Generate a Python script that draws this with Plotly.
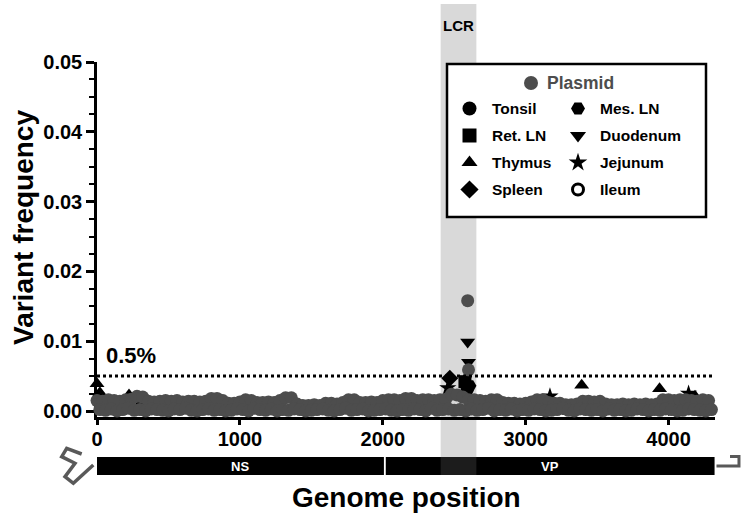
import plotly.graph_objects as go

# ---------------- data ----------------
# Plasmid: upper envelope of the dense band (every 40 nt) and lower points (offset 20 nt)
plasmid_hi = [
    0.0015, 0.0014, 0.0016, 0.0015, 0.0014, 0.0016, 0.0017, 0.0021, 0.0020, 0.0014,
    0.0013, 0.0014, 0.0015, 0.0014, 0.0015, 0.0013, 0.0014, 0.0014, 0.0013, 0.0014,
    0.0018, 0.0018, 0.0015, 0.0011, 0.0011, 0.0013, 0.0016, 0.0015, 0.0012, 0.0012,
    0.0013, 0.0012, 0.0015, 0.0019, 0.0019, 0.0010, 0.0008, 0.0008, 0.0009, 0.0008,
    0.0011, 0.0011, 0.0010, 0.0012, 0.0016, 0.0016, 0.0012, 0.0012, 0.0013, 0.0012,
    0.0015, 0.0016, 0.0016, 0.0015, 0.0018, 0.0018, 0.0015, 0.0016, 0.0016, 0.0015,
    0.0016, 0.0017, 0.0024, 0.0023, 0.0020, 0.0016, 0.0016, 0.0015, 0.0014, 0.0016,
    0.0016, 0.0012, 0.0011, 0.0011, 0.0010, 0.0011, 0.0013, 0.0016, 0.0016, 0.0012,
    0.0011, 0.0011, 0.0009, 0.0009, 0.0010, 0.0014, 0.0014, 0.0013, 0.0014, 0.0010,
    0.0009, 0.0009, 0.0010, 0.0009, 0.0010, 0.0009, 0.0010, 0.0009, 0.0010, 0.0016,
    0.0016, 0.0015, 0.0016, 0.0016, 0.0015, 0.0014, 0.0016, 0.0015,
]
plasmid_lo = [
    0.0002, 0.0001, 0.0003, 0.0000, 0.0002, 0.0004, 0.0001, 0.0002, 0.0000, 0.0003,
    0.0002, 0.0001, 0.0000, 0.0003, 0.0002, 0.0004, 0.0001, 0.0000, 0.0002, 0.0003,
    0.0001, 0.0002, 0.0000, 0.0001, 0.0003, 0.0002, 0.0000, 0.0004, 0.0002, 0.0001,
    0.0003, 0.0000, 0.0002, 0.0001, 0.0003, 0.0002, 0.0000, 0.0001, 0.0002, 0.0003,
    0.0001, 0.0000, 0.0002, 0.0004, 0.0001, 0.0002, 0.0003, 0.0000, 0.0001, 0.0002,
    0.0003, 0.0001, 0.0000, 0.0002, 0.0001, 0.0003, 0.0002, 0.0000, 0.0004, 0.0001,
    0.0002, 0.0003, 0.0001, 0.0002, 0.0000, 0.0003, 0.0001, 0.0002, 0.0004, 0.0000,
    0.0002, 0.0001, 0.0003, 0.0000, 0.0002, 0.0001, 0.0003, 0.0002, 0.0000, 0.0001,
    0.0002, 0.0004, 0.0001, 0.0000, 0.0003, 0.0002, 0.0001, 0.0002, 0.0000, 0.0003,
    0.0001, 0.0002, 0.0000, 0.0001, 0.0003, 0.0002, 0.0000, 0.0002, 0.0001, 0.0003,
    0.0002, 0.0000, 0.0001, 0.0003, 0.0002, 0.0001, 0.0000, 0.0002,
]
plasmid_peak_pos = [2594, 2600]
plasmid_peak_freq = [0.0158, 0.0059]

plasmid_pos = (list(range(0, 40 * len(plasmid_hi), 40))
               + list(range(20, 20 + 40 * len(plasmid_lo), 40))
               + plasmid_peak_pos)
plasmid_freq = plasmid_hi + plasmid_lo + plasmid_peak_freq

tissue_names = ["Tonsil", "Ret. LN", "Thymus", "Spleen",
                "Mes. LN", "Duodenum", "Jejunum", "Ileum"]
tissue_symbols = ["circle", "square", "triangle-up", "diamond",
                  "hexagon2", "triangle-down", "star", "circle-open"]
tissue_pos = {
    "Tonsil":   [120, 980, 1850, 2590, 3600],
    "Ret. LN":  [400, 1500, 2575, 3300],
    "Thymus":   [0, 20, 224, 3392, 3937, 4185],
    "Spleen":   [700, 2469, 4000],
    "Mes. LN":  [300, 2610, 3800],
    "Duodenum": [1200, 2594, 2600],
    "Jejunum":  [2455, 3170, 4140],
    "Ileum":    [1600, 2250, 3700],
}
tissue_freq = {
    "Tonsil":   [0.0006, 0.0004, 0.0007, 0.0030, 0.0005],
    "Ret. LN":  [0.0005, 0.0006, 0.0042, 0.0004],
    "Thymus":   [0.0039, 0.0026, 0.0023, 0.0037, 0.0032, 0.0021],
    "Spleen":   [0.0006, 0.0047, 0.0005],
    "Mes. LN":  [0.0005, 0.0036, 0.0006],
    "Duodenum": [0.0005, 0.0099, 0.0070],
    "Jejunum":  [0.0033, 0.0021, 0.0025],
    "Ileum":    [0.0004, 0.0006, 0.0005],
}

threshold = 0.005
threshold_label = "0.5%"
genes = ["NS", "VP"]
gene_start = [0, 2021]
gene_end = [2008, 4322]
lcr_start, lcr_end = 2405, 2655

x_ticks = [0, 1000, 2000, 3000, 4000]
y_ticks = [0.0, 0.01, 0.02, 0.03, 0.04, 0.05]
X_RANGE = [0, 4325]
Y_RANGE = [-0.00086, 0.05]

# ---------------- layout helpers (pixel -> paper / data) ----------------
W, H = 742, 520
L, R, T, B = 97, 27, 62, 103
PW, PH = W - L - R, H - T - B


def px(x):
    return (x - L) / PW


def py(y):
    return (H - B - y) / PH


def dx(x):
    return X_RANGE[0] + px(x) * (X_RANGE[1] - X_RANGE[0])


def dy(y):
    return Y_RANGE[0] + py(y) * (Y_RANGE[1] - Y_RANGE[0])


FONT = "Liberation Sans, Arial, Helvetica, sans-serif"
GREY = "#4d4d4d"


def bold(size, color="black"):
    return dict(family=FONT, size=size, color=color, weight="bold")


fig = go.Figure()

# tissue samples (drawn first, plasmid on top)
for name, sym in zip(tissue_names, tissue_symbols):
    open_sym = sym.endswith("open")
    fig.add_trace(go.Scatter(
        x=tissue_pos[name], y=tissue_freq[name], mode="markers", name=name,
        marker=dict(symbol=sym, size=11 if open_sym else 13, color="#000000",
                    line=dict(width=3 if open_sym else 0, color="#000000")),
        cliponaxis=False, showlegend=False))

fig.add_trace(go.Scatter(
    x=plasmid_pos, y=plasmid_freq, mode="markers", name="Plasmid",
    marker=dict(symbol="circle", size=13, color=GREY, line=dict(width=0)),
    cliponaxis=False, showlegend=False))

shapes = []
# LCR band
shapes.append(dict(type="rect", xref="x", yref="paper", x0=lcr_start, x1=lcr_end,
                   y0=py(475), y1=py(4), fillcolor="#d9d9d9", line=dict(width=0),
                   layer="below"))
# legend box
shapes.append(dict(type="rect", xref="paper", yref="paper", x0=px(447), x1=px(706),
                   y0=py(217), y1=py(64), fillcolor="white",
                   line=dict(color="black", width=2.5), layer="below"))
# threshold line
shapes.append(dict(type="line", xref="paper", yref="y", x0=0, x1=1, y0=threshold, y1=threshold,
                   line=dict(color="black", width=3, dash="dot"), layer="above"))
# genome bar
for g, s, e in zip(genes, gene_start, gene_end):
    shapes.append(dict(type="rect", xref="x", yref="paper", x0=s, x1=e,
                       y0=py(475), y1=py(457), fillcolor="black", line=dict(width=0),
                       layer="above"))
shapes.append(dict(type="rect", xref="x", yref="paper", x0=lcr_start, x1=lcr_end,
                   y0=py(475), y1=py(457), fillcolor="rgba(217,217,217,0.13)",
                   line=dict(width=0), layer="above"))
# ITR hairpins
left_pts = [(81.7, 454), (66.7, 448.3), (61.7, 456.7), (75, 463.3), (65, 476.7), (73.3, 483.3), (93.3, 465)]
path = "M " + " L ".join(f"{px(x):.4f},{py(y):.4f}" for x, y in left_pts)
shapes.append(dict(type="path", xref="paper", yref="paper", path=path,
                   line=dict(color="#595959", width=3.5), layer="above"))
right_pts = [(716.5, 466), (739, 466), (739, 456.5), (730, 456.5)]
path = "M " + " L ".join(f"{px(x):.4f},{py(y):.4f}" for x, y in right_pts)
shapes.append(dict(type="path", xref="paper", yref="paper", path=path,
                   line=dict(color="#595959", width=3), layer="above"))

annotations = []
for g, s, e in zip(genes, gene_start, gene_end):
    annotations.append(dict(x=(s + e) / 2, y=py(466), xref="x", yref="paper", text=g,
                            xanchor="center", yanchor="middle", showarrow=False,
                            font=bold(13, "white")))
annotations.append(dict(x=(lcr_start + lcr_end) / 2, y=py(26), xref="x", yref="paper", text="LCR",
                        xanchor="center", yanchor="middle", showarrow=False, font=bold(15)))
annotations.append(dict(x=dx(104), y=0.0079, xref="x", yref="y", text=threshold_label,
                        xanchor="left", yanchor="middle", showarrow=False, font=bold(22)))
annotations.append(dict(x=px(23), y=py(228), xref="paper", yref="paper", text="Variant frequency",
                        textangle=-90, xanchor="center", yanchor="middle", showarrow=False,
                        font=bold(28)))
annotations.append(dict(x=px(406), y=py(497), xref="paper", yref="paper", text="Genome position",
                        xanchor="center", yanchor="middle", showarrow=False, font=bold(28)))

# manual legend
leg_x = [469.5, 578]
leg_y = [108.5, 135.5, 162.5, 189.5]
for i, (name, sym) in enumerate(zip(tissue_names, tissue_symbols)):
    col, row = divmod(i, 4)
    open_sym = sym.endswith("open")
    fig.add_trace(go.Scatter(
        x=[dx(leg_x[col])], y=[dy(leg_y[row])], mode="markers",
        marker=dict(symbol=sym, size=11 if open_sym else 14, color="#000000",
                    line=dict(width=3 if open_sym else 0, color="#000000")),
        cliponaxis=False, showlegend=False, hoverinfo="skip"))
    annotations.append(dict(x=px(leg_x[col] + 20), y=py(leg_y[row]), xref="paper", yref="paper",
                            text=name, xanchor="left", yanchor="middle", showarrow=False,
                            font=bold(15.5)))
fig.add_trace(go.Scatter(x=[dx(531)], y=[dy(83)], mode="markers",
                         marker=dict(symbol="circle", size=14, color=GREY),
                         cliponaxis=False, showlegend=False, hoverinfo="skip"))
annotations.append(dict(x=px(545), y=py(83), xref="paper", yref="paper", text="Plasmid",
                        xanchor="left", yanchor="middle", showarrow=False, font=bold(17.5, GREY)))

fig.update_layout(
    width=W, height=H,
    margin=dict(l=L, r=R, t=T, b=B, pad=0),
    plot_bgcolor="rgba(0,0,0,0)", paper_bgcolor="white",
    showlegend=False, hovermode=False,
    shapes=shapes, annotations=annotations,
    xaxis=dict(range=X_RANGE, tickvals=x_ticks, ticktext=[str(v) for v in x_ticks],
               showgrid=False, zeroline=False, showline=True, linecolor="black", linewidth=2.5,
               ticks="outside", ticklen=5, tickwidth=2.5, tickcolor="black",
               ticklabelstandoff=-3,
               tickfont=bold(20), layer="below traces", fixedrange=True),
    yaxis=dict(range=Y_RANGE, tickvals=y_ticks, tickformat=".2f",
               showgrid=False, zeroline=False, showline=True, linecolor="black", linewidth=2.5,
               ticks="outside", ticklen=8, tickwidth=2.5, tickcolor="black",
               minor=dict(dtick=0.0025, tick0=0, ticks="outside", ticklen=5, tickwidth=2,
                          tickcolor="black", showgrid=False),
               tickfont=bold(20), layer="below traces", fixedrange=True),
)

fig.write_html("out.html", config={"displayModeBar": False},
               post_script="document.body.style.margin='0';")
